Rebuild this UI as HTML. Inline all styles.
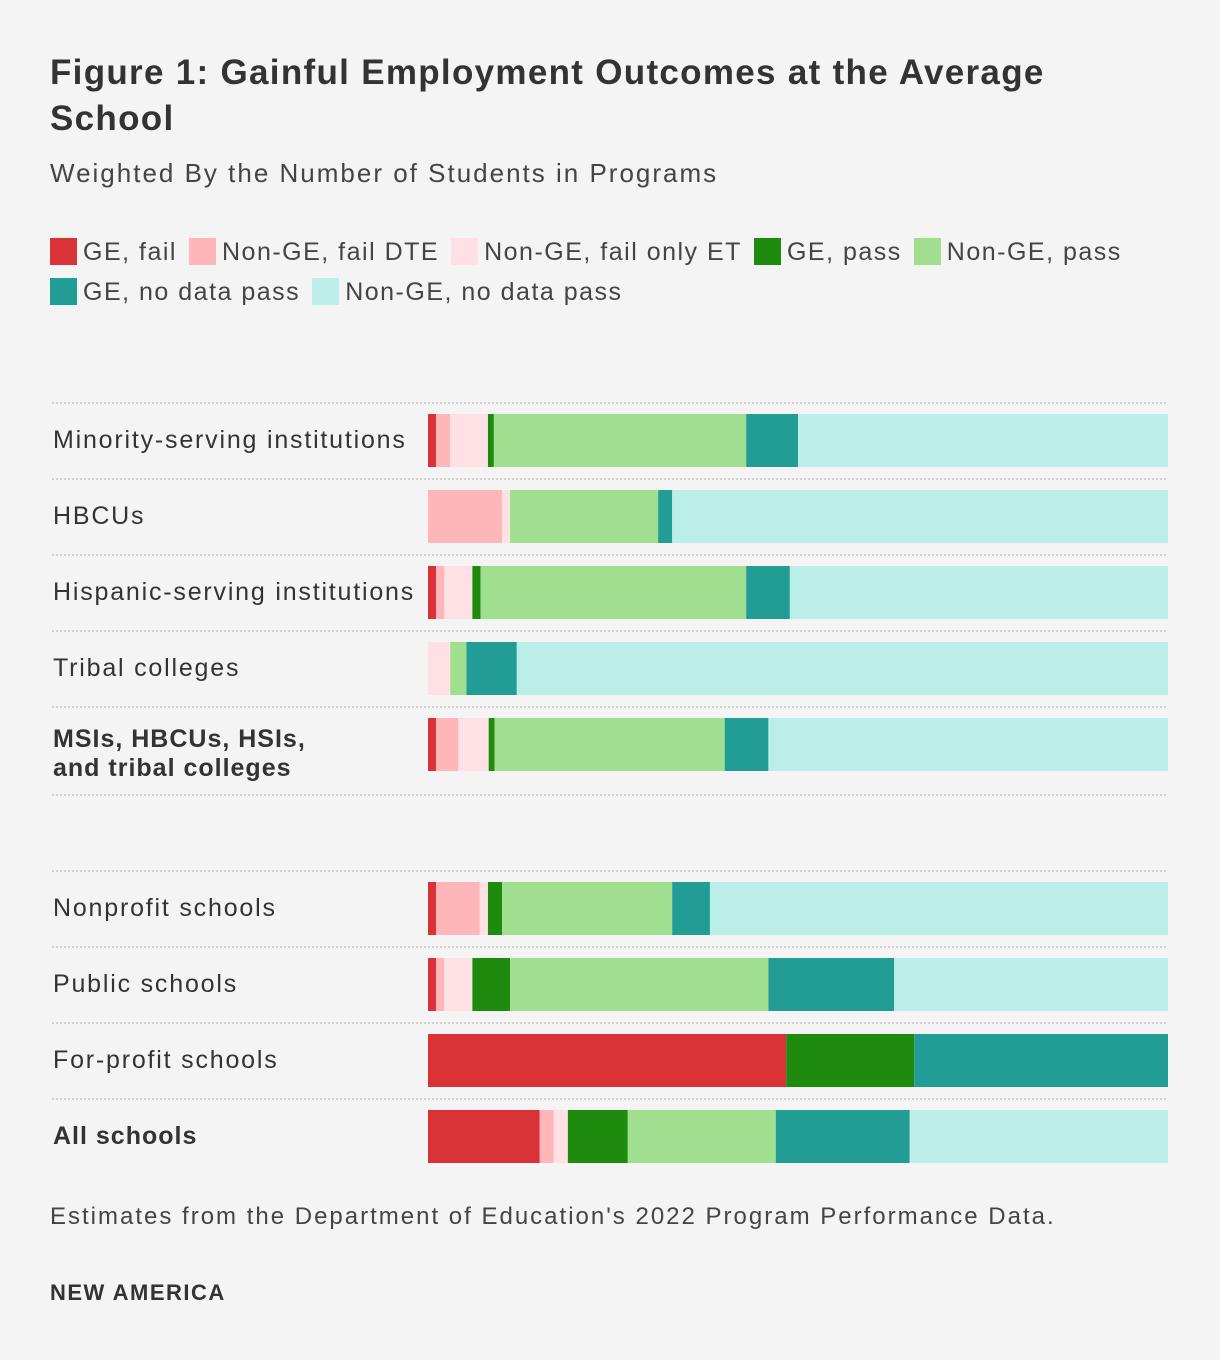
<!DOCTYPE html>
<html><head><meta charset="utf-8"><style>
body{margin:0;background:#f4f4f4;width:1220px;height:1360px;overflow:hidden;font-family:"Liberation Sans",sans-serif;color:#333}
.t{position:absolute;left:50px;top:50px;font-size:35px;font-weight:bold;line-height:46px;width:1100px;color:#333;letter-spacing:1.3px}
.s{position:absolute;left:50px;top:158px;font-size:26px;color:#444;letter-spacing:2px}
.lg{position:absolute;left:50px;top:232px;font-size:25px;color:#444;width:1150px;line-height:40px;letter-spacing:1.5px}
.li{display:inline-block;margin-right:12px;white-space:nowrap}
.sw{display:inline-block;width:27px;height:27px;vertical-align:-5px;margin-right:6px}
.f{position:absolute;left:50px;top:1203px;font-size:24px;color:#444;letter-spacing:2px}
.b{position:absolute;left:50px;top:1280px;font-size:22px;font-weight:bold;color:#333;letter-spacing:1.5px}
svg{position:absolute;left:0;top:0}
</style></head><body>
<div class="t">Figure 1: Gainful Employment Outcomes at the Average<br>School</div>
<div class="s">Weighted By the Number of Students in Programs</div>
<div class="lg" id="legend"></div>
<svg id="chart" width="1220" height="1360"></svg>
<div class="f">Estimates from the Department of Education's 2022 Program Performance Data.</div>
<div class="b">NEW AMERICA</div>
<script>
const series=["GE, fail","Non-GE, fail DTE","Non-GE, fail only ET","GE, pass","Non-GE, pass","GE, no data pass","Non-GE, no data pass"];
const colors=["#d93237","#ffb6b9","#ffe0e4","#1e8a0e","#a0df8f","#219d96","#bbede9"];
const categories=["Minority-serving institutions","HBCUs","Hispanic-serving institutions","Tribal colleges","MSIs, HBCUs, HSIs,|and tribal colleges","Nonprofit schools","Public schools","For-profit schools","All schools"];
const bold=[false,false,false,false,true,false,false,false,true];
const geFail=[1.1,0,1.1,0,1.1,1.1,1.1,48.4,15.1];
const nonGeFailDte=[1.9,10.0,1.1,0,3.0,5.9,1.1,0,1.9];
const nonGeFailEt=[5.1,1.1,3.8,3.0,4.1,1.1,3.8,0,1.9];
const gePass=[0.8,0,1.1,0,0.8,1.9,5.1,17.3,8.1];
const nonGePass=[34.1,20.0,35.9,2.2,31.1,23.0,34.9,0,20.0];
const geNoData=[7.0,1.9,5.9,6.8,5.9,5.1,17.0,34.3,18.1];
const nonGeNoData=[50.0,67.0,51.1,88.0,54.0,61.9,37.0,0,34.9];
const vals=[geFail,nonGeFailDte,nonGeFailEt,gePass,nonGePass,geNoData,nonGeNoData];
const NS="http://www.w3.org/2000/svg";
const svg=document.getElementById('chart');
const x0=428,x1=1168;
const xs=v=>x0+(x1-x0)*v/100;
const rowTop=i=>i<5?403+76*i:871+76*(i-5);
const leg=document.getElementById('legend');
series.forEach((s,k)=>{
 const d=document.createElement('span');d.className='li';
 
 
 d.innerHTML='<span class="sw" style="background:'+colors[k]+'"></span>'+s;
 leg.appendChild(d);
 if(k==4)leg.appendChild(document.createElement('br'));
});
function line(y){const l=document.createElementNS(NS,'line');
 l.setAttribute('x1',52);l.setAttribute('x2',1168);l.setAttribute('y1',y);l.setAttribute('y2',y);
 l.setAttribute('stroke','#c4c4c4');l.setAttribute('stroke-width',1.5);l.setAttribute('stroke-dasharray','2,2');
 
 
 svg.appendChild(l);}
categories.forEach((c,i)=>{
 const top=rowTop(i);line(top);
 if(i==4)line(top+88);
 let acc=0;
 const total=vals.reduce((a,b)=>a+b[i],0);
 vals.forEach((arr,k)=>{const v=arr[i];if(v>0){
  const r=document.createElementNS(NS,'rect');
  const a=acc/total*100,b=(acc+v)/total*100;
  r.setAttribute('x',xs(a));r.setAttribute('width',xs(b)-xs(a));
  r.setAttribute('y',top+11);r.setAttribute('height',53);r.setAttribute('fill',colors[k]);
  
  
  svg.appendChild(r);} acc+=v;});
 const parts=c.split('|');
 const t=document.createElementNS(NS,'text');
 t.setAttribute('x',53);t.setAttribute('font-size',25);t.setAttribute('fill','#333');
 t.setAttribute('font-family','"Liberation Sans",sans-serif');
 t.setAttribute('letter-spacing',bold[i]?'1px':'1.8px');
 if(bold[i])t.setAttribute('font-weight','bold');
 
 
 parts.forEach((p,j)=>{const ts=document.createElementNS(NS,'tspan');ts.setAttribute('x',53);
  ts.setAttribute('y',parts.length>1?top+40+j*29:top+45);ts.textContent=p;t.appendChild(ts);});
 svg.appendChild(t);
});
</script>
</body></html>
